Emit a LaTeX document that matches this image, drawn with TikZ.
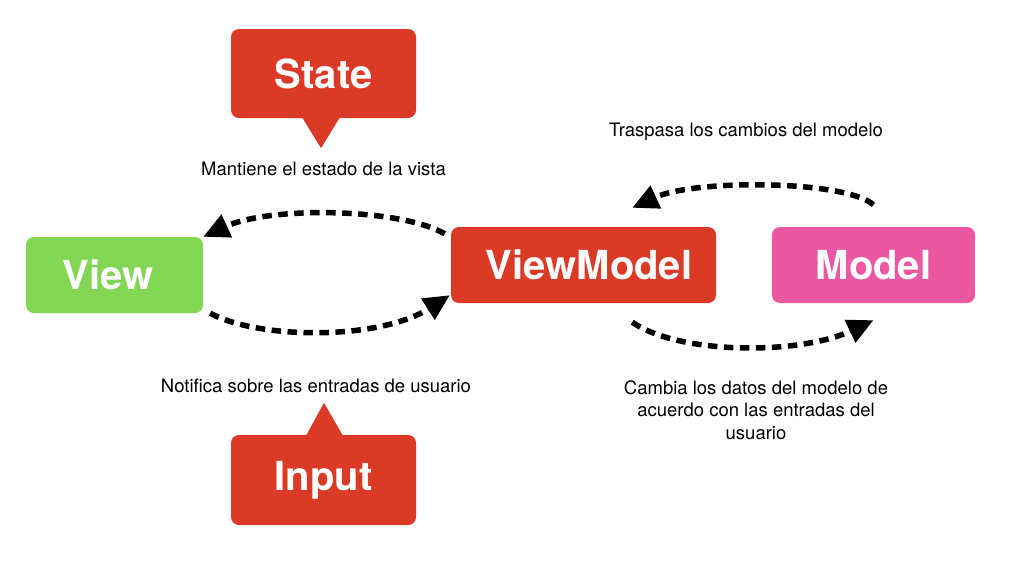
\documentclass[tikz,border=0pt]{standalone}
\usepackage{fontspec}
\setmainfont{TeX Gyre Heros}
\usetikzlibrary{arrows.meta,calc}
\definecolor{vmred}{RGB}{219,58,39}
\definecolor{vgreen}{RGB}{130,214,84}
\definecolor{mpink}{RGB}{235,87,160}
\tikzset{
  box/.style={rounded corners=8pt, inner sep=0pt, text=white,
    font=\fontsize{40}{48}\selectfont\bfseries},
  lbl/.style={inner sep=0pt, align=center, font=\fontsize{18.5}{22.5}\selectfont},
  flow/.style={line width=5.5pt, dash pattern=on 9.5pt off 6.5pt,
    -{Triangle[length=26pt,width=24pt]}}
}
\begin{document}
\begin{tikzpicture}[x=1pt,y=-1pt]
\useasboundingbox[fill=white] (0,0) rectangle (1024,562);
% boxes
\node[box, fill=vgreen, minimum width=177pt, minimum height=76pt] (View) at (114.5,275) {};
\node at (108,275) (tView) [text=white, font=\fontsize{40}{48}\selectfont\bfseries, inner sep=0pt] {View};
\node[box, fill=vmred, minimum width=265pt, minimum height=76pt] (VM) at (583.5,265) {};
\node at (589,265) (tVM) [text=white, font=\fontsize{40}{48}\selectfont\bfseries, inner sep=0pt] {ViewModel};
\node[box, fill=mpink, minimum width=203pt, minimum height=76pt] (Model) at (873.5,265) {Model};
\node[box, fill=vmred, minimum width=185pt, minimum height=89pt] (State) at (323.5,73.5) {State};
\node[box, fill=vmred, minimum width=185pt, minimum height=90pt] (Input) at (323.5,480) {Input};
% callout pointers
\fill[vmred] ($(State.south)+(-21.5,-1)$) -- ($(State.south)+(16.5,-1)$) -- ($(State.south)+(-2.5,30)$) -- cycle;
\fill[vmred] ($(Input.north)+(-17.5,1)$) -- ($(Input.north)+(19.5,1)$) -- ($(Input.north)+(0.5,-32)$) -- cycle;
% labels
\node[lbl] (tState) at (323.5,169) {Mantiene el estado de la vista};
\node[lbl] (tInput) at (316,386) {Notifica sobre las entradas de usuario};
\node[lbl] (tTrasp) at (746,132) {Traspasa los cambios del modelo};
\node[lbl] (tCambia) at (756,410) {Cambia los datos del modelo de\\acuerdo con las entradas del\\usuario};
% connectors
\draw[flow] ($(VM.north west)+(-6,7)$) .. controls (400,208) and (270,206) .. (View.north east);
\draw[flow] ($(View.south east)+(7,0)$) .. controls (260,340) and (380,340) .. ($(VM.south west)+(-1,-8)$);
\draw[flow] ($(Model.north)+(0,-22)$) .. controls (845,180) and (695,179) .. ($(VM.north east)+(-84,-19)$);
\draw[flow] ($(VM.south east)+(-84,19)$) .. controls (680,355) and (800,355) .. ($(Model.south)+(0,17)$);
\end{tikzpicture}
\end{document}
